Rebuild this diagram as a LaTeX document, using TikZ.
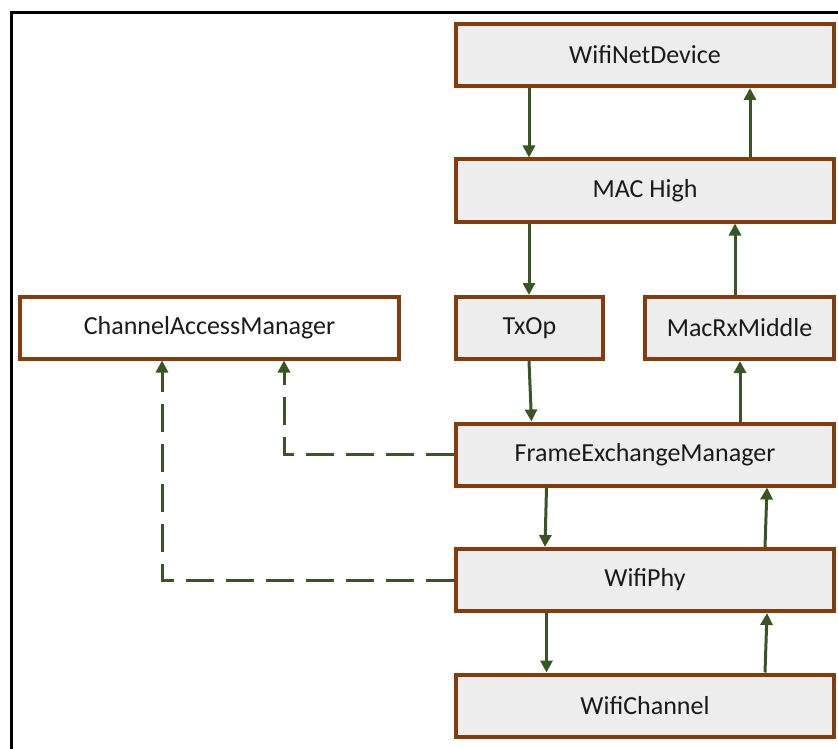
\documentclass[tikz,border=0pt]{standalone}
\usepackage{fontspec}
\setmainfont{Carlito}
\usetikzlibrary{arrows.meta}
\definecolor{boxbrown}{HTML}{843C0C}
\definecolor{boxfill}{HTML}{EDEDED}
\definecolor{arrgreen}{HTML}{375623}
\definecolor{txt}{HTML}{1A1A1A}
\tikzset{
  blk/.style={draw=boxbrown, line width=4pt, fill=boxfill, minimum height=62pt,
    inner sep=0pt, text=txt, font=\fontsize{26}{30}\selectfont},
  blkw/.style={blk, fill=white},
  arr/.style={draw=arrgreen, line width=3pt, -{Triangle[width=12pt,length=12pt]}},
  dsh/.style={arr, dash pattern=on 28pt off 12pt},
}
\begin{document}
\begin{tikzpicture}[x=1pt,y=-1pt]
\useasboundingbox (0,0) rectangle (838,749);
% frame
\draw[line width=3.5pt, black] (838,12.3) -- (11.7,12.3) -- (11.7,749);
% boxes
\node[blk, minimum width=378pt] (wnd) at (645,55) {WifiNetDevice};
\node[blk, minimum width=378pt] (mach) at (645,190.5) {MAC High};
\node[blk, minimum width=147pt] (txop) at (529.5,328) {TxOp};
\node[blk, minimum width=189pt] (mrx) at (739.5,328) {MacRxMiddle};
\node[blkw, minimum width=379pt] (cam) at (209.5,327.5) {ChannelAccessManager};
\node[blk, minimum width=378pt] (fem) at (645,454.5) {FrameExchangeManager};
\node[blk, minimum width=378pt] (phy) at (645,580) {WifiPhy};
\node[blk, minimum width=378pt] (chan) at (645,705.5) {WifiChannel};
% x positions
\coordinate (xa) at (529,0);
\coordinate (xb) at (750,0);
\coordinate (xc) at (735,0);
\coordinate (xd) at (531.5,0);
\coordinate (xe) at (740,0);
\coordinate (xf) at (546.5,0);
\coordinate (xg) at (545,0);
\coordinate (xh) at (765,0);
\coordinate (xi) at (767,0);
\coordinate (xj) at (284,0);
\coordinate (xk) at (162,0);
% solid arrows
\draw[arr] (wnd.south -| xa) -- (mach.north -| xa);
\draw[arr] (mach.north -| xb) -- (wnd.south -| xb);
\draw[arr] (mach.south -| xa) -- (txop.north -| xa);
\draw[arr] (mrx.north -| xc) -- (mach.south -| xc);
\draw[arr] (txop.south -| xa) -- (fem.north -| xd);
\draw[arr] (fem.north -| xe) -- (mrx.south -| xe);
\draw[arr] (fem.south -| xf) -- (phy.north -| xg);
\draw[arr] (phy.north -| xh) -- (fem.south -| xi);
\draw[arr] (phy.south -| xf) -- (chan.north -| xf);
\draw[arr] (chan.north -| xh) -- (phy.south -| xi);
% dashed arrows
\draw[dsh] (fem.west) -| (cam.south -| xj);
\draw[dsh] (phy.west) -| (cam.south -| xk);
\end{tikzpicture}
\end{document}
